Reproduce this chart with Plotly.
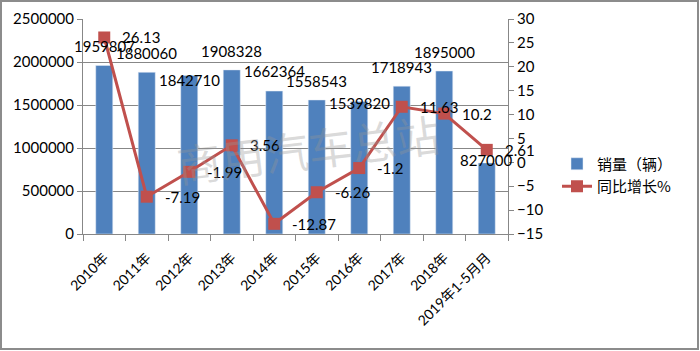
import plotly.graph_objects as go

categories = ["2010年", "2011年", "2012年", "2013年", "2014年", "2015年",
              "2016年", "2017年", "2018年", "2019年1-5月月"]
sales = [1959807, 1880060, 1842710, 1908328, 1662364, 1558543,
         1539820, 1718943, 1895000, 827000]
growth = [26.13, -7.19, -1.99, 3.56, -12.87, -6.26, -1.2, 11.63, 10.2, 2.61]
growth_text = ["26.13", "-7.19", "-1.99", "3.56", "-12.87", "-6.26",
               "-1.2", "11.63", "10.2", "2.61"]

bar_label_shift = [19, 19, -4, 19, 20, 19, -1, 19, 19, 3]

W, H = 700, 351
ML, MR, MT, MB = 83, 192, 19, 117
PW, PH = W - ML - MR, H - MT - MB

FONT = "Lato, 'Noto Sans CJK SC', sans-serif"
CJK = "'Noto Sans CJK SC', Lato, sans-serif"
GRID = "#878787"
BAR = "#4F81BD"
LINE = "#C0504D"

fig = go.Figure()
fig.add_trace(go.Bar(x=categories, y=sales, name="销量（辆）", marker_color=BAR,
                     width=0.4, yaxis="y"))
fig.add_trace(go.Scatter(x=categories, y=growth, name="同比增长%", yaxis="y2",
                         mode="lines+markers",
                         line=dict(color=LINE, width=3),
                         marker=dict(symbol="square", size=12, color=LINE)))

ann = []
for c, v, s in zip(categories, sales, bar_label_shift):
    ann.append(dict(x=c, y=v, xref="x", yref="y", text=str(v), showarrow=False,
                    yshift=s, font=dict(family=FONT, size=15, color="#000")))
for c, v, t in zip(categories, growth, growth_text):
    ann.append(dict(x=c, y=v, xref="x", yref="y2", text=t, showarrow=False,
                    xanchor="left", xshift=16,
                    font=dict(family=FONT, size=15, color="#000")))
# watermark
ann.append(dict(x=(308 - ML) / PW, y=(MT + PH - 198) / PH, xref="paper", yref="paper",
                text="商用汽车总站", showarrow=False, textangle=-7,
                font=dict(family=CJK, size=44, color="rgba(150,150,150,0.35)")))

shapes = [dict(type="rect", xref="paper", yref="paper",
               x0=(1 - ML) / PW, x1=(W - 2 - ML) / PW,
               y0=-(H - 2 - MT - PH) / PH, y1=(MT + PH - 1) / PH,
               line=dict(color="#8c8c8c", width=2), layer="below")]

fig.update_layout(
    width=W, height=H,
    margin=dict(l=ML, r=MR, t=MT, b=MB, autoexpand=False),
    paper_bgcolor="white", plot_bgcolor="white",
    showlegend=True,
    legend=dict(x=(557 - ML) / PW, y=(MT + PH - 175) / PH, xanchor="left", yanchor="middle",
                font=dict(family=CJK, size=15, color="#000"), bgcolor="rgba(0,0,0,0)",
                traceorder="normal", tracegroupgap=0),
    xaxis=dict(type="category", range=[-0.5, len(categories) - 0.5],
               tickangle=-45, tickson="boundaries", automargin=False,
               ticks="outside", ticklen=6, tickcolor=GRID, ticklabelstandoff=9,
               showline=True, linecolor=GRID, linewidth=1,
               tickfont=dict(family=FONT, size=14, color="#000"), showgrid=False),
    yaxis=dict(range=[0, 2500000], dtick=500000, tickformat="d", automargin=False,
               showgrid=True, gridcolor=GRID, gridwidth=1,
               showline=True, linecolor=GRID, ticks="outside", ticklen=5, tickcolor=GRID,
               tickfont=dict(family=FONT, size=15, color="#000"), zeroline=False),
    yaxis2=dict(range=[-15, 30], dtick=5, overlaying="y", side="right", automargin=False,
                showgrid=False, zeroline=False,
                showline=True, linecolor=GRID, ticks="outside", ticklen=5, tickcolor=GRID,
                tickfont=dict(family=FONT, size=15, color="#000")),
    annotations=ann, shapes=shapes,
)

fig.write_html("out.html")
